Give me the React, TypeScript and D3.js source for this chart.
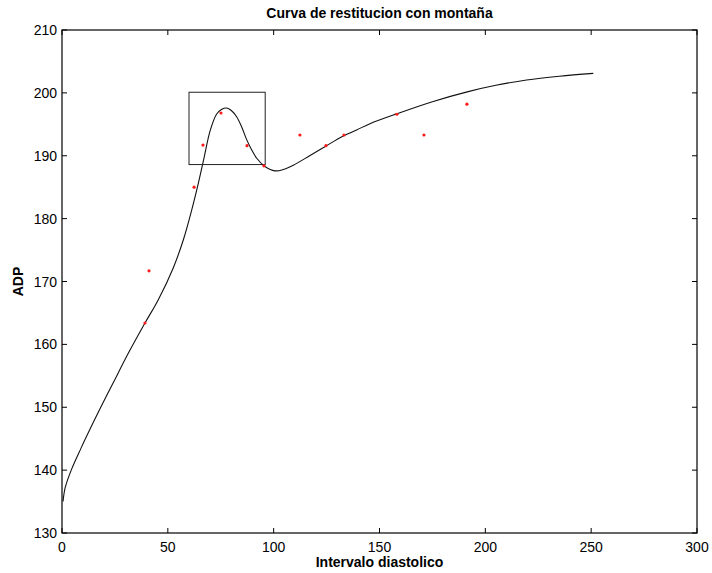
import React from "react";
import * as d3 from "d3";

// Measured action potential duration vs diastolic interval
const sampleDI = [39.2, 41.1, 62.4, 66.6, 75.1, 87.4, 95.4, 112.4, 124.7, 133.2, 158.2, 171.0, 191.3];
const sampleADP = [163.4, 171.7, 185.0, 191.7, 196.8, 191.6, 188.4, 193.3, 191.6, 193.3, 196.6, 193.3, 198.2];

// Fitted restitution curve (with hump)
const curveDI = [0.5, 1.5, 4.6, 9, 14.8, 19.5, 24.2, 31.5, 39.2, 45.5, 52.6, 57.3, 61.3, 64.4, 67, 70, 73, 75.5, 77.8, 80, 82.5, 85, 87.2, 89.5, 92, 95.9, 100.6, 104.5, 109.3, 117, 125, 132, 139.2, 145.5, 158.4, 175, 191.9, 205, 219.5, 235, 251];
const curveADP = [135, 137.2, 140.2, 143.5, 147.6, 150.8, 153.9, 158.7, 163.4, 167.1, 172.2, 176.6, 181.4, 185.6, 189.5, 194, 196.6, 197.4, 197.6, 197.2, 196.2, 194.5, 192.6, 191, 189.6, 188.3, 187.6, 187.8, 188.5, 190, 191.6, 193, 194.1, 195.1, 196.7, 198.6, 200.2, 201.2, 202.05, 202.65, 203.1];

// Highlighted region around the hump
const boxDI = [60, 96];
const boxADP = [188.6, 200.1];

const xTicks = [0, 50, 100, 150, 200, 250, 300];
const yTicks = [130, 140, 150, 160, 170, 180, 190, 200, 210];

const W = 712;
const H = 573;
const left = 62;
const right = 697;
const top = 30;
const bottom = 533;

export default function App() {
  const x = d3.scaleLinear().domain([0, 300]).range([left, right]);
  const y = d3.scaleLinear().domain([130, 210]).range([bottom, top]);

  const line = d3
    .line<number>()
    .x((_, i) => x(curveDI[i]))
    .y((d) => y(d))
    .curve(d3.curveCatmullRom.alpha(0.5));

  const font = "'Liberation Sans', Arial, Helvetica, sans-serif";
  const tl = 5;

  return (
    <svg
      width={W}
      height={H}
      style={{ position: "absolute", left: 0, top: 0, background: "#fff" }}
      fontFamily={font}
    >
      <rect x={0} y={0} width={W} height={H} fill="#fff" />
      {/* curve */}
      <path d={line(curveADP) || ""} fill="none" stroke="#111" strokeWidth={1.1} />
      {/* highlight box */}
      <rect
        x={x(boxDI[0])}
        y={y(boxADP[1])}
        width={x(boxDI[1]) - x(boxDI[0])}
        height={y(boxADP[0]) - y(boxADP[1])}
        fill="none"
        stroke="#222"
        strokeWidth={1}
      />
      {/* samples */}
      {sampleADP.map((v, i) => (
        <circle key={i} cx={x(sampleDI[i])} cy={y(v)} r={1.6} fill="#ff1a1a" />
      ))}
      {/* axes frame */}
      <rect
        x={left}
        y={top}
        width={right - left}
        height={bottom - top}
        fill="none"
        stroke="#000"
        strokeWidth={1.2}
      />
      {xTicks.map((t) => (
        <g key={"x" + t}>
          <line x1={x(t)} x2={x(t)} y1={bottom} y2={bottom - tl} stroke="#000" />
          <line x1={x(t)} x2={x(t)} y1={top} y2={top + tl} stroke="#000" />
          <text x={x(t)} y={bottom + 19} fontSize={14} textAnchor="middle" fill="#000">
            {t}
          </text>
        </g>
      ))}
      {yTicks.map((t) => (
        <g key={"y" + t}>
          <line x1={left} x2={left + tl} y1={y(t)} y2={y(t)} stroke="#000" />
          <line x1={right} x2={right - tl} y1={y(t)} y2={y(t)} stroke="#000" />
          <text x={left - 5} y={y(t) + 5} fontSize={14} textAnchor="end" fill="#000">
            {t}
          </text>
        </g>
      ))}
      <text x={(left + right) / 2} y={18} fontSize={14} fontWeight="bold" textAnchor="middle" fill="#000">
        Curva de restitucion con montaña
      </text>
      <text x={(left + right) / 2} y={567} fontSize={14} fontWeight="bold" textAnchor="middle" fill="#000">
        Intervalo diastolico
      </text>
      <text
        transform={`translate(23, ${(top + bottom) / 2}) rotate(-90)`}
        fontSize={14}
        fontWeight="bold"
        textAnchor="middle"
        fill="#000"
      >
        ADP
      </text>
    </svg>
  );
}
